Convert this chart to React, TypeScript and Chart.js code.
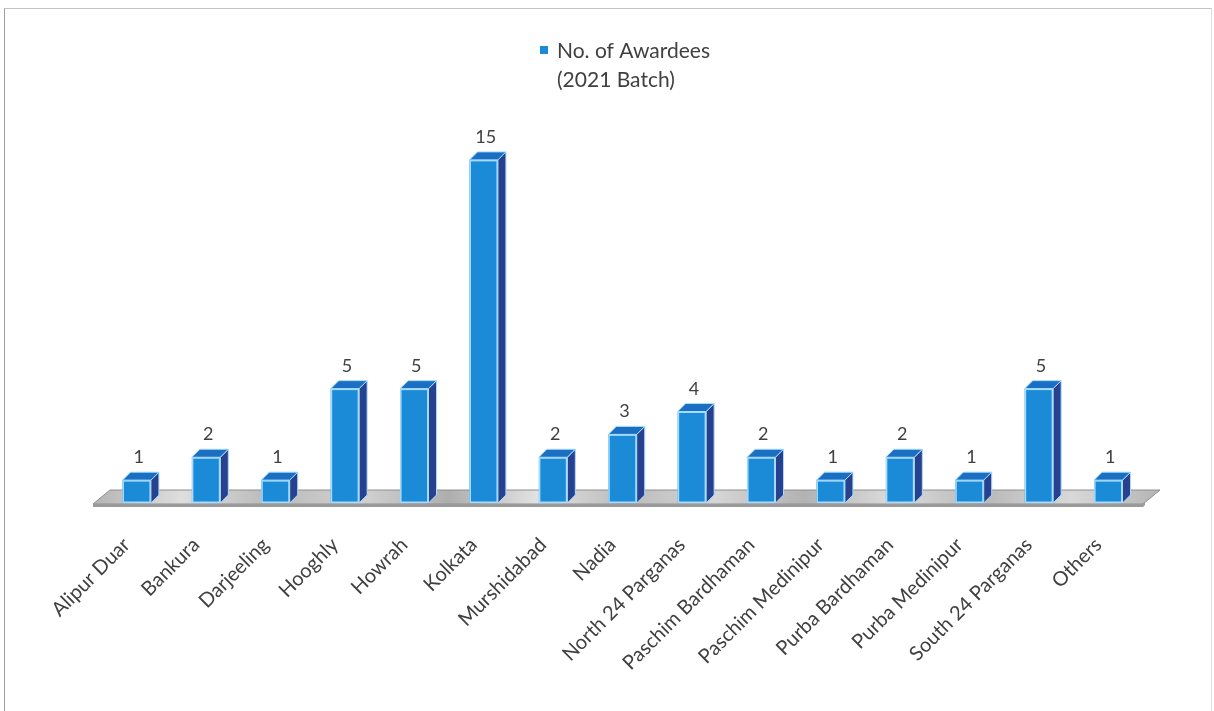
import React, { useEffect, useRef } from "react";
import { Chart, registerables } from "chart.js";

Chart.register(...registerables);

const categories = [
  "Alipur Duar",
  "Bankura",
  "Darjeeling",
  "Hooghly",
  "Howrah",
  "Kolkata",
  "Murshidabad",
  "Nadia",
  "North 24 Parganas",
  "Paschim Bardhaman",
  "Paschim Medinipur",
  "Purba Bardhaman",
  "Purba Medinipur",
  "South 24 Parganas",
  "Others",
];
const awardees = [1, 2, 1, 5, 5, 15, 2, 3, 4, 2, 1, 2, 1, 5, 1];
const seriesLabel = ["No. of Awardees", "(2021 Batch)"];
const yMax = 16;

const FONT = "Lato, 'Open Sans', sans-serif";
const TEXT = "#404040";
const FRONT = "#1b8bd8";
const SIDE = "#27418f";
const TOP = "#1b6fc2";
const EDGE = "#a6dcff";
const DEPTH = 8;

const threeDPlugin = {
  id: "threeD",
  beforeDatasetsDraw(chart: any) {
    const { ctx, chartArea } = chart;
    const b = chartArea.bottom;
    const fl = chartArea.left - 9;
    const fr = chartArea.right;
    const yFront = b + 1;
    const yBack = b - 13;
    const shift = 17;
    ctx.save();
    const g = ctx.createLinearGradient(fl, yBack, fr + shift, yFront);
    const stops = ["#b4b4b4", "#dedede", "#b9b9b9", "#d2d2d2", "#aeaeae", "#e2e2e2", "#bbbbbb", "#d6d6d6", "#b2b2b2", "#dcdcdc", "#b8b8b8", "#d8d8d8", "#b5b5b5"];
    stops.forEach((c, i) => g.addColorStop(i / (stops.length - 1), c));
    ctx.fillStyle = g;
    ctx.beginPath();
    ctx.moveTo(fl, yFront);
    ctx.lineTo(fl + shift, yBack);
    ctx.lineTo(fr + shift, yBack);
    ctx.lineTo(fr, yFront);
    ctx.closePath();
    ctx.fill();
    ctx.strokeStyle = "#8e8e8e";
    ctx.lineWidth = 1;
    ctx.stroke();
    ctx.fillStyle = "#9a9a9a";
    ctx.beginPath();
    ctx.moveTo(fl, yFront);
    ctx.lineTo(fr, yFront);
    ctx.lineTo(fr + 2, yFront - 2);
    ctx.lineTo(fr + 2, yFront + 1);
    ctx.lineTo(fr, yFront + 3);
    ctx.lineTo(fl, yFront + 3);
    ctx.closePath();
    ctx.fill();
    ctx.restore();
  },
  afterDatasetsDraw(chart: any) {
    const { ctx } = chart;
    const meta = chart.getDatasetMeta(0);
    const values = chart.data.datasets[0].data;
    ctx.save();
    meta.data.forEach((bar: any, i: number) => {
      const { x, y, width, base } = bar.getProps(["x", "y", "width", "base"], true);
      const x0 = x - width / 2;
      const x1 = x + width / 2;
      ctx.fillStyle = SIDE;
      ctx.beginPath();
      ctx.moveTo(x1, y);
      ctx.lineTo(x1 + DEPTH, y - DEPTH);
      ctx.lineTo(x1 + DEPTH, base - DEPTH);
      ctx.lineTo(x1, base);
      ctx.closePath();
      ctx.fill();
      ctx.strokeStyle = EDGE;
      ctx.lineWidth = 1;
      ctx.stroke();
      ctx.fillStyle = TOP;
      ctx.beginPath();
      ctx.moveTo(x0, y);
      ctx.lineTo(x0 + DEPTH, y - DEPTH);
      ctx.lineTo(x1 + DEPTH, y - DEPTH);
      ctx.lineTo(x1, y);
      ctx.closePath();
      ctx.fill();
      ctx.stroke();
      ctx.strokeStyle = EDGE;
      ctx.lineWidth = 1.5;
      ctx.strokeRect(x0 + 0.75, y + 0.75, width - 1.5, base - y - 1.5);
      ctx.fillStyle = TEXT;
      ctx.font = `18px ${FONT}`;
      ctx.textAlign = "center";
      ctx.textBaseline = "alphabetic";
      ctx.fillText(String(values[i]), x + 2, y - DEPTH - 9);
    });
    ctx.restore();
  },
  afterDraw(chart: any) {
    const { ctx } = chart;
    ctx.save();
    ctx.fillStyle = FRONT;
    ctx.fillRect(540, 46, 8, 8);
    ctx.fillStyle = TEXT;
    ctx.font = `21px ${FONT}`;
    ctx.textAlign = "left";
    ctx.textBaseline = "alphabetic";
    seriesLabel.forEach((line, i) => {
      ctx.fillText(line, 557, 58 + i * 29);
    });
    ctx.restore();
  },
};

export default function App() {
  const ref = useRef<HTMLCanvasElement>(null);
  useEffect(() => {
    if (!ref.current) return;
    const chart = new Chart(ref.current, {
      type: "bar",
      data: {
        labels: categories,
        datasets: [
          {
            label: seriesLabel.join(" "),
            data: awardees,
            backgroundColor: FRONT,
            borderWidth: 0,
            barPercentage: 0.41,
            categoryPercentage: 1,
          },
        ],
      },
      options: {
        responsive: false,
        animation: false,
        layout: { padding: { left: 102, right: 71, top: 137, bottom: 0 } },
        plugins: {
          legend: { display: false },
          tooltip: { enabled: false },
        },
        scales: {
          x: {
            grid: { display: false },
            border: { display: false },
            ticks: {
              color: TEXT,
              font: { family: FONT, size: 20 },
              minRotation: 45,
              maxRotation: 45,
              padding: 22,
              labelOffset: -10,
              autoSkip: false,
            },
            afterFit: (scale: any) => {
              scale.height = 208;
            },
          },
          y: {
            display: false,
            min: 0,
            max: yMax,
          },
        },
      },
      plugins: [threeDPlugin],
    });
    return () => chart.destroy();
  }, []);

  return (
    <div style={{ position: "absolute", left: 0, top: 0, width: 1214, height: 711, background: "#fff", overflow: "hidden" }}>
      <div
        style={{
          position: "absolute",
          left: 4,
          top: 8,
          width: 1206,
          height: 720,
          borderLeft: "1px solid #a0a0a0",
          borderTop: "1px solid #c4c4c4",
          borderRight: "1px solid #e0e0e0",
        }}
      />
      <canvas ref={ref} width={1214} height={711} style={{ position: "absolute", left: 0, top: 0 }} />
    </div>
  );
}
